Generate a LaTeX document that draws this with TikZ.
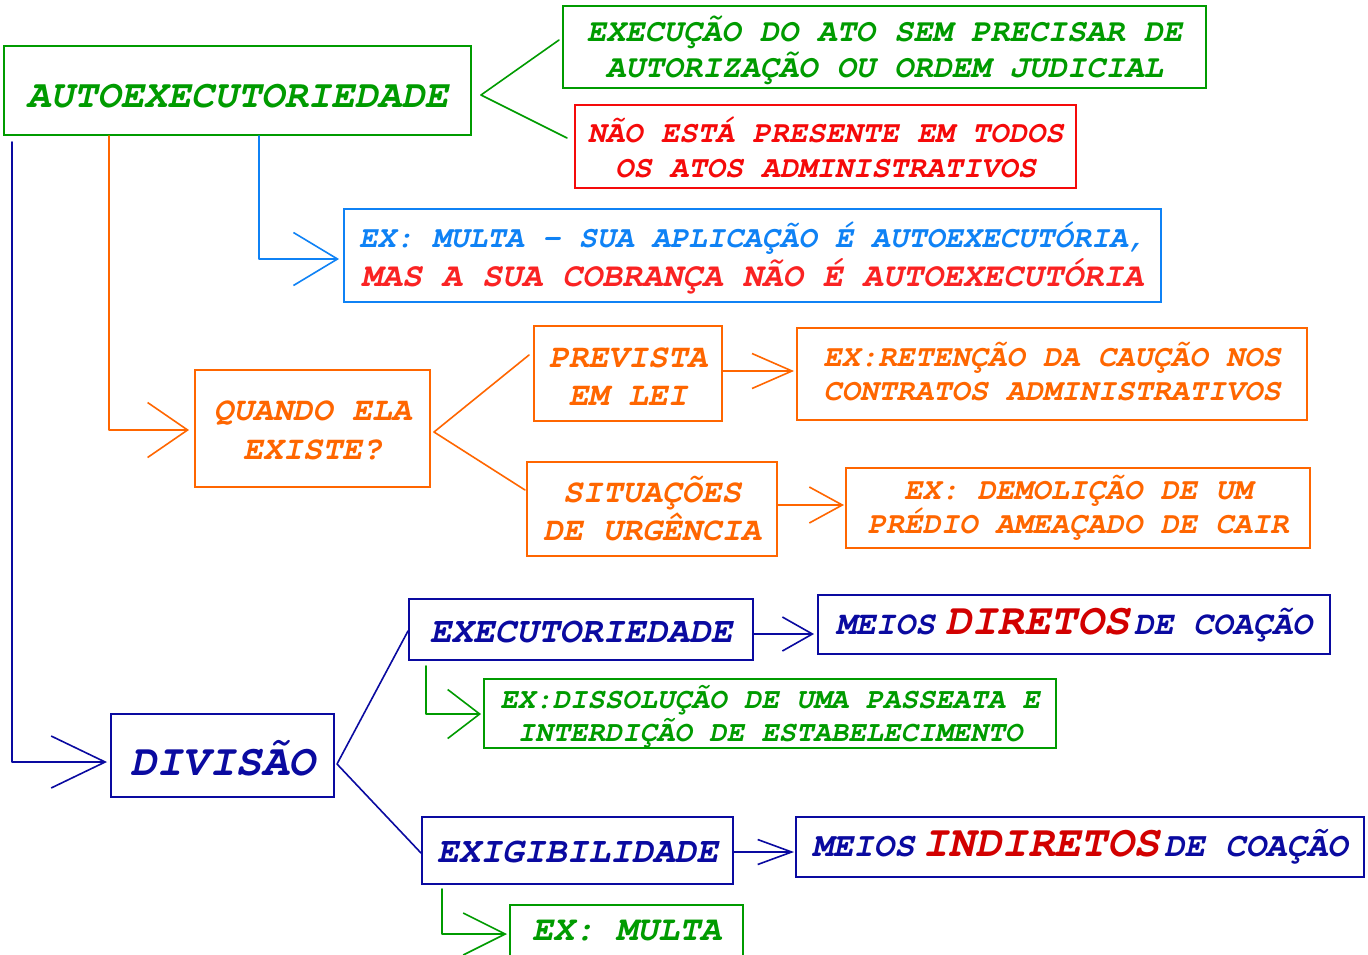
\documentclass[tikz,border=0pt]{standalone}
\usepackage[T1]{fontenc}
\usetikzlibrary{arrows.meta,calc}
\definecolor{gr}{RGB}{0,155,0}
\definecolor{rd}{RGB}{245,10,10}
\definecolor{rdb}{RGB}{250,35,35}
\definecolor{dr}{RGB}{210,0,0}
\definecolor{bl}{RGB}{15,130,245}
\definecolor{orn}{RGB}{255,102,0}
\definecolor{nv}{RGB}{10,10,160}
\newcommand\myfs[2]{\fontsize{#1pt}{#2pt}\selectfont}
\newcommand\courbi{\fontencoding{T1}\fontfamily{pcr}\fontseries{b}\fontshape{sl}\selectfont}
\newcommand\up[1]{\rule{0pt}{#1pt}}
\tikzset{
  bx/.style={draw=#1, text=#1, line width=2pt, inner sep=0pt, align=center},
  fsz/.style 2 args={font=\courbi\myfs{#1}{#2}},
  cn/.style={draw=#1, line width=1.6pt, line cap=round, line join=round},
  vh/.style 2 args={-{Straight Barb[length=#1pt,width=#2pt]}},
}
\begin{document}
\begin{tikzpicture}[x=1pt,y=-1pt]
\useasboundingbox (0,0) rectangle (1368,954);
\clip (0,0) rectangle (1368,954);
\fill[white] (0,0) rectangle (1368,954);

% nodes
\node[bx=gr, fsz={39}{39}, minimum width=467pt, minimum height=89pt] (auto) at (237.5,90.5)
  {\up{34}AUTOEXECUTORIEDADE};
\node[bx=gr, fsz={32}{36}, minimum width=643pt, minimum height=82pt] (gexec) at (884.5,47)
  {\up{31}EXECUÇÃO DO ATO SEM PRECISAR DE\\AUTORIZAÇÃO OU ORDEM JUDICIAL};
\node[bx=rd, fsz={30.5}{35}, minimum width=501pt, minimum height=83pt] (rednode) at (825.5,146.5)
  {\up{28}NÃO ESTÁ PRESENTE EM TODOS\\OS ATOS ADMINISTRATIVOS};
\node[bx=bl, fsz={33}{39}, minimum width=817pt, minimum height=93pt] (bluebox) at (752.5,255.5)
  {{\color{bl}\myfs{30.5}{39}\up{29}EX: MULTA - SUA APLICAÇÃO É AUTOEXECUTÓRIA,}\\{\color{rdb}\myfs{33.4}{39}MAS A SUA COBRANÇA NÃO É AUTOEXECUTÓRIA}};
\node[bx=orn, fsz={33}{39}, minimum width=235pt, minimum height=117pt] (quando) at (312.5,428.5)
  {\up{24}QUANDO ELA\\EXISTE?};
\node[bx=orn, fsz={33}{38}, minimum width=188pt, minimum height=95pt] (prev) at (628,373.5)
  {\up{26}PREVISTA\\EM LEI};
\node[bx=orn, fsz={33}{38}, minimum width=250pt, minimum height=94pt] (sit) at (652,509)
  {SITUAÇÕES\\DE URGÊNCIA};
\node[bx=orn, fsz={30.5}{34}, minimum width=510pt, minimum height=92pt] (ret) at (1052,374)
  {EX:RETENÇÃO DA CAUÇÃO NOS\\CONTRATOS ADMINISTRATIVOS\rule[-4pt]{0pt}{4pt}};
\node[bx=orn, fsz={30.5}{34}, minimum width=464pt, minimum height=80pt] (dem) at (1078,508)
  {EX: DEMOLIÇÃO DE UM\\PRÉDIO AMEAÇADO DE CAIR};
\node[bx=nv, fsz={36}{36}, minimum width=344pt, minimum height=61pt] (exec) at (581,629.5)
  {\up{26}EXECUTORIEDADE};
\node[bx=nv, fsz={33}{40}, minimum width=512pt, minimum height=59pt] (meiosd) at (1074,624.5)
  {MEIOS\hspace{10pt}{\color{dr}\myfs{44}{40}DIRETOS}\hspace{4pt}DE COAÇÃO};
\node[bx=gr, fsz={29}{33}, minimum width=572pt, minimum height=69pt] (diss) at (770,713.5)
  {\up{28.6}EX:DISSOLUÇÃO DE UMA PASSEATA E\\INTERDIÇÃO DE ESTABELECIMENTO};
\node[bx=nv, fsz={44}{44}, minimum width=223pt, minimum height=83pt] (divisao) at (222.5,755.5)
  {\up{40}DIVISÃO};
\node[bx=nv, fsz={36}{36}, minimum width=311pt, minimum height=67pt] (exig) at (577.5,850.5)
  {\up{24}EXIGIBILIDADE};
\node[bx=nv, fsz={34}{40}, minimum width=568pt, minimum height=60pt] (meiosi) at (1080,847)
  {MEIOS\hspace{8pt}{\color{dr}\myfs{44}{40}INDIRETOS}\hspace{4pt}DE COAÇÃO};
\node[bx=gr, fsz={35}{35}, minimum width=233pt, minimum height=52pt] (multa) at (626.5,931)
  {EX: MULTA};

% connectors
\draw[cn=gr] ([xshift=-3pt,yshift=7pt]gexec.west) -- ([xshift=9pt,yshift=-4.5pt]auto.east)
  -- ([xshift=-7pt,yshift=8.5pt]rednode.west);
\draw[cn=bl, vh={44}{53}] ([xshift=21.5pt]auto.south) |- ([xshift=-4pt,yshift=-3.5pt]bluebox.west);
\draw[cn=orn, vh={40}{55}] ([xshift=-128.5pt]auto.south) |- ([xshift=-5pt,yshift=-1.5pt]quando.west);
\draw[cn=nv, vh={54}{52}] ([xshift=9pt,yshift=-6pt]auto.south west) |- ([xshift=-3pt,yshift=-6.5pt]divisao.west);
\draw[cn=orn] ([xshift=-4pt,yshift=18.5pt]prev.west) -- ([xshift=3pt,yshift=-3.5pt]quando.east)
  -- ([xshift=-1pt,yshift=19pt]sit.west);
\draw[cn=orn, vh={40}{35}] ([yshift=2.5pt]prev.east) -- ([xshift=-2pt,yshift=3pt]ret.west);
\draw[cn=orn, vh={33}{36}] ([yshift=4pt]sit.east) -- ([xshift=-1pt,yshift=3pt]dem.west);
\draw[cn=nv] ([yshift=-1.5pt]exec.west) -- ([xshift=2pt,yshift=-8.5pt]divisao.east)
  -- ([yshift=-2.5pt]exig.west);
\draw[cn=nv, vh={30}{34}] ([yshift=-4.5pt]exec.east) -- ([xshift=-3pt,yshift=-9.5pt]meiosd.west);
\draw[cn=gr, vh={32}{49}] ([xshift=18pt,yshift=-5pt]exec.south west) |- ([xshift=-2pt,yshift=-0.5pt]diss.west);
\draw[cn=nv, vh={34}{25}] ([yshift=-1.5pt]exig.east) -- ([xshift=-1pt,yshift=-5pt]meiosi.west);
\draw[cn=gr, vh={42}{42}] ([xshift=21pt,yshift=-4pt]exig.south west) |- ([xshift=-2pt,yshift=-3pt]multa.west);
\end{tikzpicture}
\end{document}
